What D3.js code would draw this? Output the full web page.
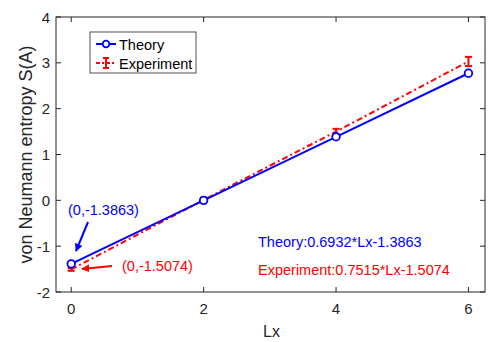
<!DOCTYPE html>
<html><head><meta charset="utf-8">
<script src="https://cdn.jsdelivr.net/npm/d3@7"></script>
<style>body{margin:0;background:#fff;}svg{display:block;font-family:"Liberation Sans",Arial,sans-serif;}</style>
</head><body>
<svg id="c" width="496" height="342"></svg>
<script>
const lx = [0, 2, 4, 6];
const theory = [-1.3863, 0.0000, 1.3863, 2.7726];
const experiment = [-1.5074, 0.01, 1.50, 3.03];
const expErr = [0.03, 0.05, 0.06, 0.10];
const xTicks = [0, 2, 4, 6];
const yTicks = [-2, -1, 0, 1, 2, 3, 4];

const svg = d3.select("#c");
const L = 56, R = 485, T = 17, B = 292;
const x = d3.scaleLinear().domain([-0.23, 6.25]).range([L, R]);
const y = d3.scaleLinear().domain([-2, 4]).range([B, T]);
const axisCol = "#262626";

svg.append("rect").attr("x", L).attr("y", T).attr("width", R - L).attr("height", B - T)
  .attr("fill", "#fff").attr("stroke", axisCol).attr("stroke-width", 1);

const tl = 5;
xTicks.forEach(v => {
  svg.append("line").attr("x1", x(v)).attr("x2", x(v)).attr("y1", B).attr("y2", B - tl).attr("stroke", axisCol);
  svg.append("line").attr("x1", x(v)).attr("x2", x(v)).attr("y1", T).attr("y2", T + tl).attr("stroke", axisCol);
  svg.append("text").attr("x", x(v)).attr("y", B + 22).attr("text-anchor", "middle")
    .attr("font-size", 15).attr("fill", axisCol).text(v);
});
yTicks.forEach(v => {
  svg.append("line").attr("x1", L).attr("x2", L + tl).attr("y1", y(v)).attr("y2", y(v)).attr("stroke", axisCol);
  svg.append("line").attr("x1", R).attr("x2", R - tl).attr("y1", y(v)).attr("y2", y(v)).attr("stroke", axisCol);
  svg.append("text").attr("x", L - 6).attr("y", y(v) + 5.5).attr("text-anchor", "end")
    .attr("font-size", 15).attr("fill", axisCol).text(v);
});

svg.append("text").attr("x", (L + R) / 2 + 1).attr("y", 337).attr("text-anchor", "middle")
  .attr("font-size", 16).attr("fill", axisCol).text("Lx");
svg.append("text").attr("transform", `translate(32,${(T + B) / 2}) rotate(-90)`)
  .attr("text-anchor", "middle").attr("font-size", 18).attr("fill", axisCol).text("von Neumann entropy S(A)");

const line = d3.line().x(d => x(d[0])).y(d => y(d[1]));

svg.append("path").datum(lx.map((v, i) => [v, experiment[i]])).attr("d", line)
  .attr("fill", "none").attr("stroke", "#ff0000").attr("stroke-width", 2).attr("stroke-dasharray", "6,3,2,3");
lx.forEach((v, i) => {
  const cx = x(v), y1 = y(experiment[i] - expErr[i]), y2 = y(experiment[i] + expErr[i]);
  const g = svg.append("g").attr("stroke", "#ff0000").attr("stroke-width", 2);
  g.append("line").attr("x1", cx).attr("x2", cx).attr("y1", y1).attr("y2", y2);
  g.append("line").attr("x1", cx - 3.5).attr("x2", cx + 3.5).attr("y1", y1).attr("y2", y1);
  g.append("line").attr("x1", cx - 3.5).attr("x2", cx + 3.5).attr("y1", y2).attr("y2", y2);
});

svg.append("path").datum(lx.map((v, i) => [v, theory[i]])).attr("d", line)
  .attr("fill", "none").attr("stroke", "#0000ff").attr("stroke-width", 2);
lx.forEach((v, i) => {
  svg.append("circle").attr("cx", x(v)).attr("cy", y(theory[i])).attr("r", 3.8)
    .attr("fill", "#fff").attr("stroke", "#0000ff").attr("stroke-width", 1.8);
});

const lg = svg.append("g");
lg.append("rect").attr("x", 90).attr("y", 32).attr("width", 106).attr("height", 41)
  .attr("fill", "#fff").attr("stroke", "#262626").attr("stroke-width", 0.8);
lg.append("line").attr("x1", 96).attr("x2", 116).attr("y1", 44).attr("y2", 44).attr("stroke", "#0000ff").attr("stroke-width", 2);
lg.append("circle").attr("cx", 106).attr("cy", 44).attr("r", 3.3).attr("fill", "#fff").attr("stroke", "#0000ff").attr("stroke-width", 1.8);
lg.append("text").attr("x", 119).attr("y", 49.5).attr("font-size", 14.5).attr("fill", "#000").text("Theory");
lg.append("line").attr("x1", 96).attr("x2", 116).attr("y1", 63).attr("y2", 63).attr("stroke", "#ff0000").attr("stroke-width", 2).attr("stroke-dasharray", "4,2,2,2");
lg.append("line").attr("x1", 106).attr("x2", 106).attr("y1", 58).attr("y2", 68).attr("stroke", "#ff0000").attr("stroke-width", 2);
lg.append("line").attr("x1", 103).attr("x2", 109).attr("y1", 58).attr("y2", 58).attr("stroke", "#ff0000").attr("stroke-width", 2);
lg.append("line").attr("x1", 103).attr("x2", 109).attr("y1", 68).attr("y2", 68).attr("stroke", "#ff0000").attr("stroke-width", 2);
lg.append("text").attr("x", 119).attr("y", 68.5).attr("font-size", 14.5).attr("fill", "#000").text("Experiment");

const defs = svg.append("defs");
[["ab", "#0000ff"], ["ar", "#ff0000"]].forEach(([id, c]) => {
  defs.append("marker").attr("id", id).attr("viewBox", "0 0 10 10").attr("refX", 9).attr("refY", 5)
    .attr("markerWidth", 4).attr("markerHeight", 4).attr("orient", "auto")
    .append("path").attr("d", "M0,0 L10,5 L0,10 z").attr("fill", c);
});
svg.append("text").attr("x", 68).attr("y", 215).attr("font-size", 14.5).attr("fill", "#0000ff").text("(0,-1.3863)");
svg.append("line").attr("x1", 88).attr("y1", 222).attr("x2", 76).attr("y2", 251)
  .attr("stroke", "#0000ff").attr("stroke-width", 2).attr("marker-end", "url(#ab)");
svg.append("text").attr("x", 122).attr("y", 271).attr("font-size", 14.5).attr("fill", "#ff0000").text("(0,-1.5074)");
svg.append("line").attr("x1", 112).attr("y1", 266).attr("x2", 82).attr("y2", 269)
  .attr("stroke", "#ff0000").attr("stroke-width", 2).attr("marker-end", "url(#ar)");
svg.append("text").attr("x", 258).attr("y", 247).attr("font-size", 14.5).attr("fill", "#0000ff").text("Theory:0.6932*Lx-1.3863");
svg.append("text").attr("x", 258).attr("y", 275).attr("font-size", 14.5).attr("fill", "#ff0000").text("Experiment:0.7515*Lx-1.5074");
</script>
</body></html>
